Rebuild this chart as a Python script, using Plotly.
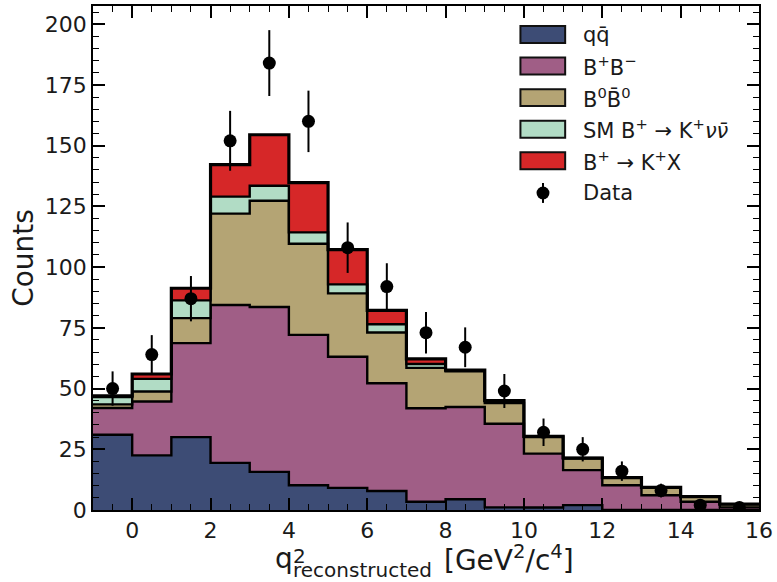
import numpy as np
import plotly.graph_objects as go

# ---------------- data ----------------
bin_edges = list(range(-1, 17))          # 17 bins of width 1 from -1 to 16
bin_centers = [e + 0.5 for e in bin_edges[:-1]]

qqbar = [31.0, 22.5, 30.0, 19.4, 15.7, 10.2, 9.1, 7.8, 3.4, 4.4, 1.1, 1.0, 2.0, 0.0, 0.0, 0.0, 0.0]
bpbm = [11.0, 22.2, 38.7, 65.0, 67.9, 61.9, 54.0, 44.4, 38.5, 38.0, 34.4, 22.2, 14.4, 10.2, 6.1, 3.4, 1.1]
b0b0bar = [1.5, 4.1, 10.3, 37.6, 43.7, 37.5, 26.1, 20.9, 16.6, 14.7, 8.5, 6.8, 4.8, 3.1, 3.2, 2.1, 1.3]
sm_knunu = [3.0, 5.2, 7.3, 7.0, 6.2, 4.7, 3.7, 3.4, 1.6, 0.5, 1.0, 0.3, 0.2, 0.0, 0.0, 0.0, 0.0]
kx = [0.5, 2.0, 5.0, 13.2, 21.0, 20.5, 14.3, 5.7, 2.1, 0.0, 0.0, 0.0, 0.0, 0.0, 0.0, 0.0, 0.0]
data_counts = [50, 64, 87, 152, 184, 160, 108, 92, 73, 67, 49, 32, 25, 16, 8, 2, 1]

x_ticks = [0, 2, 4, 6, 8, 10, 12, 14, 16]
y_ticks = [0, 25, 50, 75, 100, 125, 150, 175, 200]

labels = ["qq\u0304",
          "B<sup>+</sup>B<sup>\u2212</sup>",
          "B<sup>0</sup>B\u0304<sup>0</sup>",
          "SM B<sup>+</sup> \u2192 K<sup>+</sup><i>\u03bd\u03bd\u0304</i>",
          "B<sup>+</sup> \u2192 K<sup>+</sup>X"]
colors = ["#3d4c75", "#a05e86", "#b4a474", "#b1dcc5", "#d62728"]
components = [qqbar, bpbm, b0b0bar, sm_knunu, kx]

# ---------------- layout geometry (pixels) ----------------
FW, FH = 777, 582
L, R, T, B = 93, 763, 4, 510
W, H = R - L, B - T


def px(x):
    return (x - L) / W


def py(y):
    return (B - y) / H


fig = go.Figure()

cum = np.zeros(len(bin_centers))
for i, comp in enumerate(components):
    cum = cum + np.array(comp)
    yv = list(cum) + [cum[-1]]
    lw = 3.2 if i == len(components) - 1 else 2.4
    fig.add_trace(go.Scatter(
        x=bin_edges, y=yv, mode="lines", line=dict(shape="hv", color="black", width=lw),
        fill="tozeroy" if i == 0 else "tonexty", fillcolor=colors[i],
        name=labels[i], showlegend=False, hoverinfo="skip"))

fig.add_trace(go.Scatter(
    x=bin_centers, y=data_counts, mode="markers", name="Data",
    marker=dict(color="black", size=13),
    error_y=dict(type="data", array=np.sqrt(np.array(data_counts, dtype=float)),
                 color="black", thickness=2, width=0),
    showlegend=False))

# ---------------- legend (drawn manually) ----------------
row_y = [32.7, 64.3, 96.0, 127.7, 159.3, 191.7]
shapes = []
annotations = []
for i, lab in enumerate(labels):
    yc = row_y[i]
    shapes.append(dict(type="rect", xref="paper", yref="paper",
                       x0=px(523), x1=px(568), y0=py(yc + 8.5), y1=py(yc - 8.5),
                       fillcolor=colors[i], line=dict(color="#111", width=2)))
    annotations.append(dict(text=lab, xref="paper", yref="paper", x=px(584), y=py(yc),
                            xanchor="left", yanchor="middle", showarrow=False,
                            font=dict(family="DejaVu Sans", size=21, color="#1a1a1a")))
yc = row_y[5]
shapes.append(dict(type="line", xref="paper", yref="paper", x0=px(545.7), x1=px(545.7),
                   y0=py(yc + 10), y1=py(yc - 10), line=dict(color="black", width=2)))
shapes.append(dict(type="circle", xref="paper", yref="paper", x0=px(539.2), x1=px(552.2),
                   y0=py(yc + 6.5), y1=py(yc - 6.5), fillcolor="black", line=dict(color="black", width=0)))
annotations.append(dict(text="Data", xref="paper", yref="paper", x=px(584), y=py(yc),
                        xanchor="left", yanchor="middle", showarrow=False,
                        font=dict(family="DejaVu Sans", size=21, color="#1a1a1a")))

# ---------------- x-axis title pieces ----------------
tf = dict(family="DejaVu Sans", color="#1a1a1a")
annotations.append(dict(text="q", xref="paper", yref="paper", x=px(274.5), y=py(568 - 9.7),
                        xanchor="left", yanchor="middle", showarrow=False, font=dict(size=28, **tf)))
annotations.append(dict(text="2", xref="paper", yref="paper", x=px(292.5), y=py(563 - 6.9),
                        xanchor="left", yanchor="middle", showarrow=False, font=dict(size=20, **tf)))
annotations.append(dict(text="reconstructed", xref="paper", yref="paper", x=px(292.5), y=py(577 - 6.9),
                        xanchor="left", yanchor="middle", showarrow=False, font=dict(size=20, **tf)))
annotations.append(dict(text="[GeV<sup>2</sup>/c<sup>4</sup>]", xref="paper", yref="paper",
                        x=px(444.5), y=py(568 - 9.7), xanchor="left", yanchor="middle",
                        showarrow=False, font=dict(size=28, **tf)))

axis_common = dict(showline=True, linecolor="black", linewidth=1.8, mirror="allticks",
                   ticks="inside", tickcolor="black", tickwidth=1.5, ticklen=12,
                   showgrid=False, zeroline=False,
                   tickfont=dict(family="DejaVu Sans", size=22, color="#1a1a1a"))

fig.update_layout(
    width=FW, height=FH,
    margin=dict(l=L, r=FW - R, t=T, b=FH - B),
    paper_bgcolor="white", plot_bgcolor="white",
    showlegend=False,
    xaxis=dict(range=[-1, 16], tickvals=x_ticks, ticktext=[str(v) for v in x_ticks],
               minor=dict(dtick=0.5, tick0=0, ticks="inside", ticklen=6, tickwidth=1.3, tickcolor="black"),
               **axis_common),
    yaxis=dict(range=[0, 207.5], tickvals=y_ticks, ticktext=[str(v) for v in y_ticks],
               minor=dict(dtick=5, tick0=0, ticks="inside", ticklen=6, tickwidth=1.3, tickcolor="black"),
               title=dict(text="Counts", font=dict(family="DejaVu Sans", size=28, color="#1a1a1a"),
                          standoff=3),
               **axis_common),
    shapes=shapes,
    annotations=annotations,
)

fig.write_html("out.html")
